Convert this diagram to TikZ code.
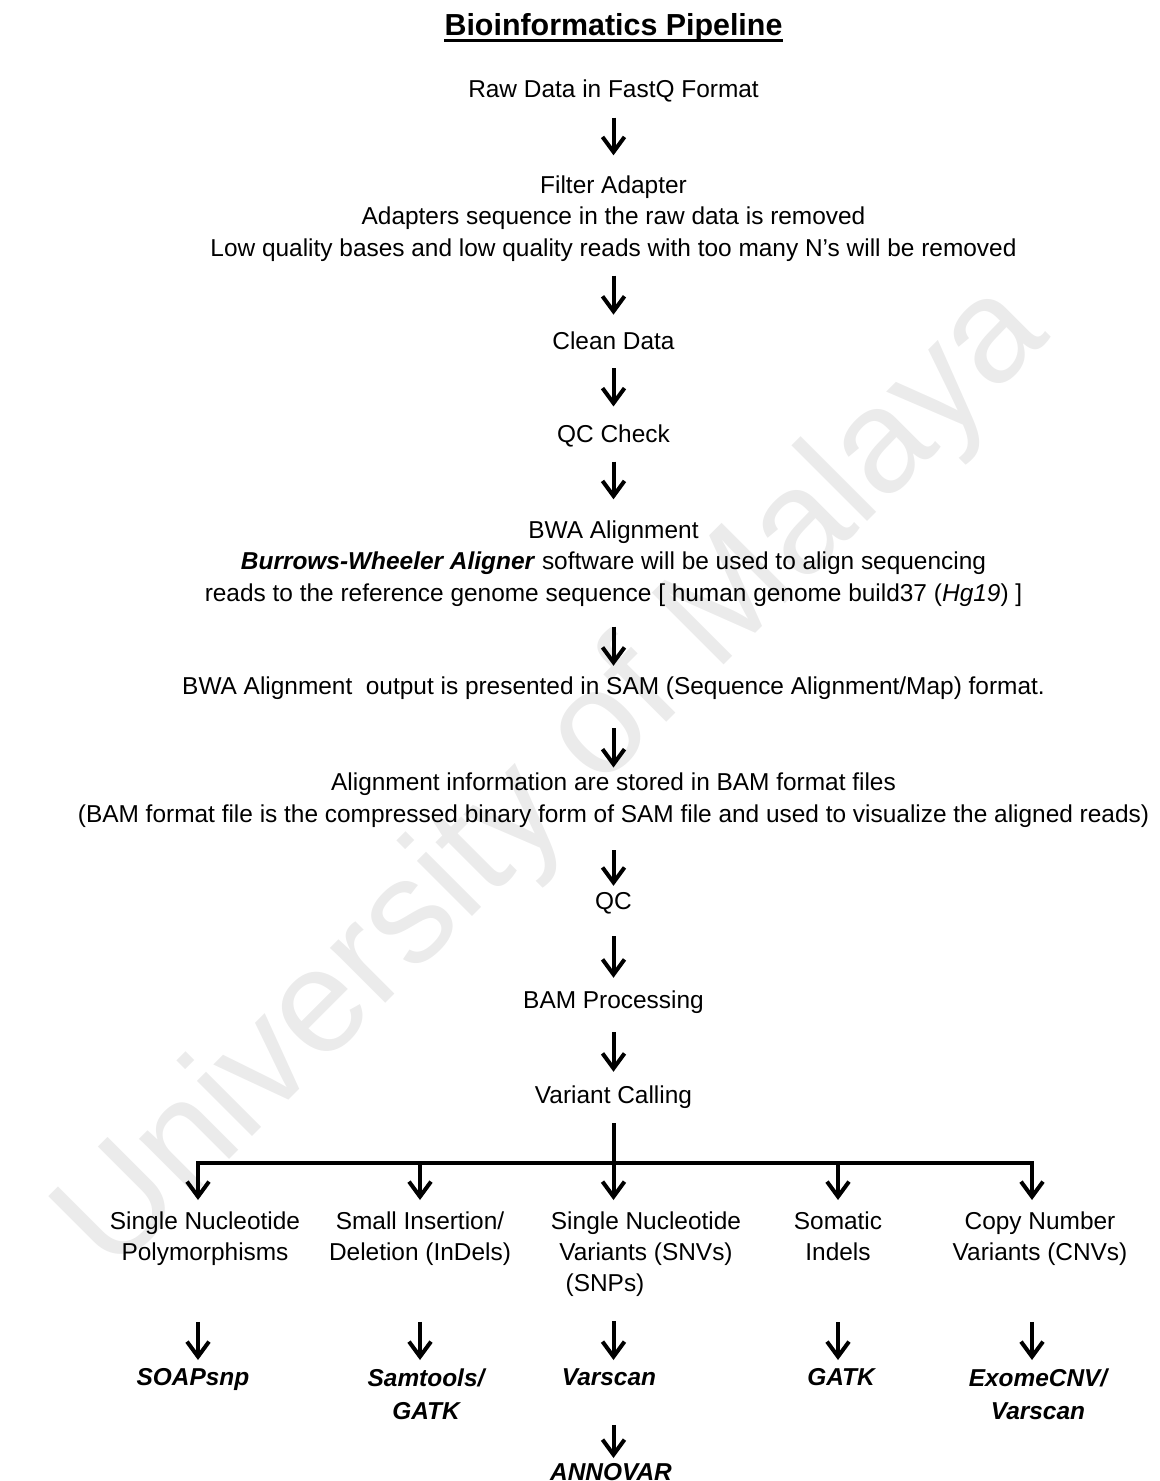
\documentclass[tikz,border=0pt]{standalone}
\usepackage{fontspec}
\setmainfont{Liberation Sans}
\usetikzlibrary{arrows.meta,positioning}
\tikzset{
  stage/.style={align=center, inner sep=0pt, font=\fontsize{13.9}{17.9}\selectfont},
  kind/.style={stage, anchor=north},
  tool/.style={stage, anchor=north, font=\fontsize{13.9}{18.8}\selectfont\bfseries\itshape},
  ttlfont/.style={inner sep=0pt, font=\fontsize{17.3}{20}\selectfont\bfseries},
  ar/.style={-{Straight Barb[length=0.3cm,width=0.44cm]}, line width=0.08cm},
  ln/.style={line width=0.08cm},
  wmark/.style={text=black!8, rotate=45, inner sep=0pt, font=\fontsize{84}{84}\selectfont},
}

\begin{document}
\begin{tikzpicture}
\useasboundingbox (0,0) rectangle (23.18,-29.62);

%% watermark behind everything
\node[wmark] (wm) at (11.1,-15.6) {University of Malaya};

%% title
\node[ttlfont] (ttl) at (12.27,-0.56) {Bioinformatics Pipeline};
\draw[line width=0.05cm] ([yshift=-0.09cm]ttl.base west) -- ([yshift=-0.09cm]ttl.base east);

%% main chain
\node[stage] (raw)   at (12.27,-1.82) {Raw Data in FastQ Format};
\node[stage] (filt)  at (12.27,-4.37) {Filter Adapter\\Adapters sequence in the raw data is removed\\Low quality bases and low quality reads with too many N's will be removed};
\node[stage] (clean) at (12.27,-6.82) {Clean Data};
\node[stage] (qcc)   at (12.27,-8.72) {QC Check};
\node[stage] (bwa)   at (12.27,-11.27) {BWA Alignment\\\textbf{\textit{Burrows-Wheeler Aligner}} software will be used to align sequencing\\reads to the reference genome sequence [ human genome build37 (\textit{Hg19}) ]};
\node[stage] (sam)   at (12.27,-13.77) {BWA Alignment\ \ output is presented in SAM (Sequence Alignment/Map) format.};
\node[stage] (bam)   at (12.27,-16.00) {Alignment information are stored in BAM format files\\(BAM format file is the compressed binary form of SAM file and used to visualize the aligned reads)};
\node[stage] (qc)    at (12.27,-18.06) {QC};
\node[stage] (proc)  at (12.27,-20.05) {BAM Processing};
\node[stage] (call)  at (12.27,-21.95) {Variant Calling};

\draw[ar, shorten <=0.30cm, shorten >=0.40cm] (raw) -- (filt);
\draw[ar, shorten <=0.28cm, shorten >=0.34cm] (filt) -- (clean);
\draw[ar, shorten <=0.36cm, shorten >=0.36cm] (clean) -- (qcc);
\draw[ar, shorten <=0.28cm, shorten >=0.42cm] (qcc) -- (bwa);
\draw[ar, shorten <=0.40cm, shorten >=0.22cm] (bwa) -- (sam);
\draw[ar, shorten <=0.56cm, shorten >=0.10cm] (sam) -- (bam);
\draw[ar, shorten <=0.46cm, shorten >=0.12cm] (bam) -- (qc);
\draw[ar, shorten <=0.44cm, shorten >=0.26cm] (qc) -- (proc);
\draw[ar, shorten <=0.36cm, shorten >=0.28cm] (proc) -- (call);

%% variant types
\node[kind] (snp) at (4.10,-24.22) {Single Nucleotide\\Polymorphisms};
\node[kind] (ind) at (8.40,-24.22) {Small Insertion/\\Deletion (InDels)};
\node[kind] (snv) at (12.92,-24.22) {Single Nucleotide\\Variants (SNVs)\\\hspace*{-1.64cm}(SNPs)};
\node[kind] (som) at (16.76,-24.22) {Somatic\\Indels};
\node[kind] (cnv) at (20.80,-24.22) {Copy Number\\Variants (CNVs)};

%% tools
\node[tool] (soap)  at (3.86,-27.36) {SOAPsnp};
\node[tool] (samt)  at (8.52,-27.36) {Samtools/\\GATK};
\node[tool] (vars)  at (12.18,-27.36) {Varscan};
\node[tool] (gatk)  at (16.82,-27.36) {GATK};
\node[tool] (exome) at (20.76,-27.36) {ExomeCNV/\\Varscan};
\node[tool] (anno)  at (12.22,-29.26) {ANNOVAR};

%% branching bus
\coordinate (b1) at (3.96,-23.26);
\coordinate (b2) at (8.40,-23.26);
\coordinate (b3) at (12.27,-23.26);
\coordinate (b4) at (16.76,-23.26);
\coordinate (b5) at (20.64,-23.26);

\draw[ln, shorten <=0.28cm] (call) -- (b3);
\draw[ln, line cap=rect] (b1) -- (b5);
\foreach \b/\n in {b1/snp,b2/ind,b3/snv,b4/som,b5/cnv}
  \draw[ar, shorten >=0.22cm] (\b) -- (\b |- \n.north);

\foreach \b/\n/\t/\s in {b1/snp/soap/1.12cm,b2/ind/samt/1.12cm,b3/snv/vars/0.48cm,b4/som/gatk/1.22cm,b5/cnv/exome/1.12cm}
  \draw[ar, shorten <=\s, shorten >=0.16cm] (\b |- \n.south) -- (\b |- \t.north);

\draw[ar, shorten <=0.78cm, shorten >=0.10cm] (b3 |- vars.south) -- (b3 |- anno.north);

\end{tikzpicture}
\end{document}
